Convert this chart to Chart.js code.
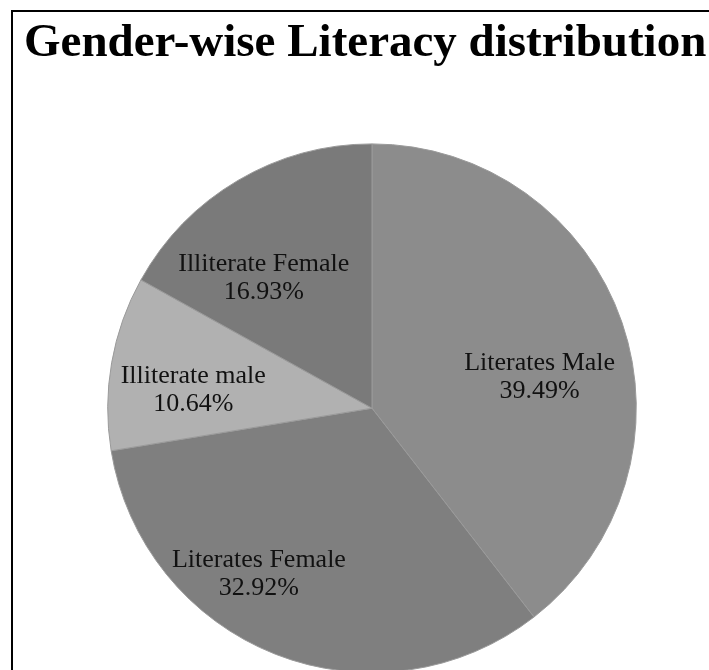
<!DOCTYPE html>
<html>
<head>
<meta charset="utf-8">
<script src="https://cdn.jsdelivr.net/npm/chart.js@4/dist/chart.umd.min.js"></script>
<style>
  html, body { margin: 0; padding: 0; background: #fff; overflow: hidden; }
  #container { position: absolute; left: 0; top: 0; width: 720px; height: 673px; }
  #frame { position: absolute; left: 11px; top: 10px; width: 800px; height: 800px;
           border-left: 2px solid #000; border-top: 2px solid #000; pointer-events: none; }
</style>
</head>
<body>
<div id="container"><canvas id="myChart" width="720" height="673"></canvas></div>
<div id="frame"></div>
<script>
var title = 'Gender-wise Literacy distribution';
var labels = ['Literates Male', 'Literates Female', 'Illiterate male', 'Illiterate Female'];
var values = [39.49, 32.92, 10.64, 16.93];
var colors = ['#8c8c8c', '#7f7f7f', '#b1b1b1', '#7a7a7a'];

// Draws "name / pct%" inside every slice, like the Excel data labels
var sliceLabels = {
  id: 'sliceLabels',
  afterDatasetsDraw: function (chart, args, opts) {
    var ctx = chart.ctx;
    var meta = chart.getDatasetMeta(0);
    ctx.save();
    ctx.fillStyle = '#111';
    ctx.font = opts.size + 'px "Liberation Serif", "Times New Roman", serif';
    ctx.textAlign = 'center';
    ctx.textBaseline = 'middle';
    for (var i = 0; i < meta.data.length; i++) {
      var arc = meta.data[i];
      var p = arc.getProps(['x', 'y', 'startAngle', 'endAngle', 'outerRadius']);
      // Excel "best fit" places the labels a bit off the slice middle
      var mid = (p.startAngle + p.endAngle) / 2 + opts.shift[i] * Math.PI / 180;
      var r = p.outerRadius * opts.radius[i];
      var x = p.x + Math.cos(mid) * r;
      var y = p.y + Math.sin(mid) * r;
      ctx.fillText(chart.data.labels[i], x, y - opts.gap / 2);
      ctx.fillText(values[i].toFixed(2) + '%', x, y + opts.gap / 2);
    }
    ctx.restore();
  }
};

var ctx = document.getElementById('myChart').getContext('2d');
var myChart = new Chart(ctx, {
  type: 'pie',
  data: {
    labels: labels,
    datasets: [{
      data: values,
      backgroundColor: colors,
      borderColor: '#9a9a9a',
      borderWidth: 1
    }]
  },
  options: {
    responsive: false,
    animation: false,
    layout: { padding: { left: 24, right: 0, top: 0, bottom: 0 } },
    plugins: {
      legend: { display: false },
      tooltip: { enabled: false },
      title: {
        display: true,
        text: title,
        align: 'start',
        color: '#000',
        font: { family: '"Liberation Serif", "Times New Roman", serif', size: 47, weight: 'bold' },
        padding: { top: 16, bottom: 71 }
      },
      sliceLabels: {
        size: 26,
        gap: 28,
        radius: [0.645, 0.76, 0.68, 0.64],
        shift: [8.5, 12.8, -4, -9.3]
      }
    }
  },
  plugins: [sliceLabels]
});
</script>
</body>
</html>
